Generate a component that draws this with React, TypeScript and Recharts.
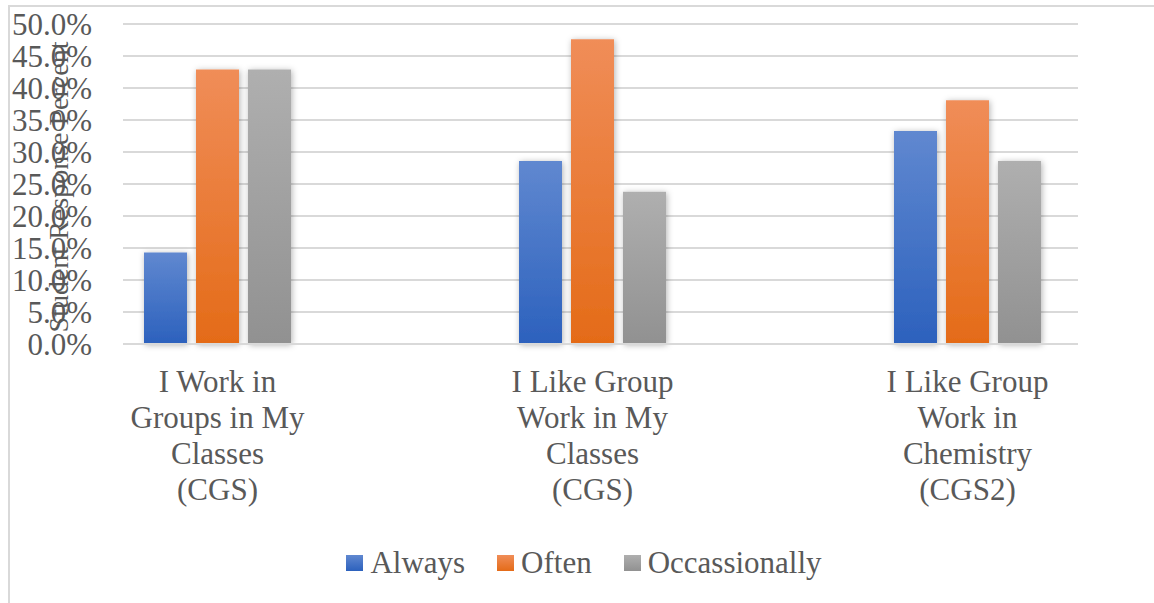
import {
    Bar,
    BarChart,
    CartesianGrid,
    Legend,
    XAxis,
    YAxis
} from "recharts";

const categories = ["CGS1", "CGS2", "CGS3"];
const categoryLines = [
    ["I Work in", "Groups in My", "Classes", "(CGS)"],
    ["I Like Group", "Work in My", "Classes", "(CGS)"],
    ["I Like Group", "Work in", "Chemistry", "(CGS2)"]
];
const always = [14.3, 28.6, 33.3];
const often = [42.9, 47.6, 38.1];
const occasionally = [42.9, 23.8, 28.6];
const yTicks = [0, 5, 10, 15, 20, 25, 30, 35, 40, 45, 50];

const series = [
    { key: "always", name: "Always", grad: "gBlue", top: "#6088d0", bottom: "#2c61bd" },
    { key: "often", name: "Often", grad: "gOrange", top: "#f08d58", bottom: "#e46b18" },
    { key: "occ", name: "Occassionally", grad: "gGray", top: "#afafaf", bottom: "#919191" }
];

const data = categories.map((c, i) => ({
    cat: c,
    always: always[i],
    often: often[i],
    occ: occasionally[i]
}));

const FONT = '"Liberation Serif", "Times New Roman", serif';
const TEXT = "#595959";

const CategoryTick = ({ x, y, index }: any) => {
    const lines = categoryLines[index] || [];
    return (
        <text x={x} y={y} textAnchor="middle" fill={TEXT} fontSize={31} fontFamily={FONT}>
            {lines.map((l, i) => (
                <tspan key={i} x={x} dy={i === 0 ? 48 : 36}>{l}</tspan>
            ))}
        </text>
    );
};

const LegendBox = () => (
    <div style={{ display: "flex", justifyContent: "center", alignItems: "center", fontFamily: FONT, fontSize: 31, color: TEXT, paddingLeft: 14 }}>
        {series.map((s, i) => (
            <div key={s.key} style={{ display: "flex", alignItems: "center", marginLeft: i === 0 ? 0 : 32 }}>
                <div style={{ width: 17, height: 16, background: `linear-gradient(${s.top}, ${s.bottom})`, marginRight: 7 }} />
                <span>{s.name}</span>
            </div>
        ))}
    </div>
);

const App = () => {
    return (
        <div style={{ position: "absolute", left: 0, top: 0, width: 1154, height: 603, background: "#fff" }}>
            <div style={{ position: "absolute", left: 8, top: 5, width: 1146, height: 598, borderTop: "2px solid #d9d9d9", borderLeft: "2px solid #d9d9d9", boxSizing: "border-box" }} />
            <BarChart
                width={1154}
                height={603}
                data={data}
                margin={{ top: 24, right: 76, left: 0, bottom: 0 }}
                barSize={43}
                barGap={9}
                style={{ position: "absolute", left: 0, top: 0 }}
            >
                <defs>
                    {series.map((s) => (
                        <linearGradient key={s.grad} id={s.grad} x1="0" y1="0" x2="0" y2="1">
                            <stop offset="0%" stopColor={s.top} />
                            <stop offset="100%" stopColor={s.bottom} />
                        </linearGradient>
                    ))}
                    <filter id="barShadow" x="-30%" y="-10%" width="160%" height="120%">
                        <feDropShadow dx="1" dy="1" stdDeviation="3" floodColor="#000" floodOpacity="0.3" />
                    </filter>
                </defs>
                <CartesianGrid vertical={false} stroke="#d9d9d9" strokeWidth={2} />
                <XAxis
                    dataKey="cat"
                    height={259}
                    padding={{ left: -93, right: -77 }}
                    tickLine={false}
                    tickSize={0}
                    tickMargin={0}
                    axisLine={{ stroke: "#d9d9d9", strokeWidth: 2 }}
                    tick={<CategoryTick />}
                    interval={0}
                />
                <YAxis
                    width={123}
                    domain={[0, 50]}
                    ticks={yTicks}
                    interval={0}
                    tickLine={false}
                    tickSize={0}
                    tickMargin={31}
                    axisLine={false}
                    tickFormatter={(v: number) => `${v.toFixed(1)}%`}
                    tick={{ fill: TEXT, fontSize: 31, fontFamily: FONT }}
                    label={{
                        content: () => (
                            <text
                                x={68}
                                y={187}
                                transform="rotate(-90, 68, 187)"
                                textAnchor="middle"
                                fill={TEXT}
                                fontSize={28}
                                fontFamily={FONT}
                            >
                                Student Response Percent
                            </text>
                        )
                    }}
                />
                <Legend
                    layout="vertical"
                    align="center"
                    verticalAlign="middle"
                    content={<LegendBox />}
                    wrapperStyle={{ top: 545, left: 0, width: 1154, height: 40 }}
                />
                {series.map((s) => (
                    <Bar
                        key={s.key}
                        dataKey={s.key}
                        name={s.name}
                        fill={`url(#${s.grad})`}
                        filter="url(#barShadow)"
                        isAnimationActive={false}
                    />
                ))}
            </BarChart>
        </div>
    );
};

export default App;
